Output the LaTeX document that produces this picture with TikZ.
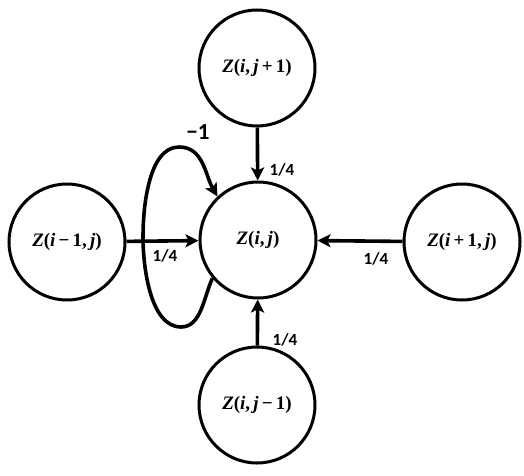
\documentclass[tikz,border=0pt]{standalone}
\usepackage{fontspec}
\newfontfamily\lblfont{Carlito}
\newfontfamily\zfont{Liberation Serif}
\usetikzlibrary{arrows.meta}
\newcommand{\vi}[1]{\textit{#1}}
\begin{document}
\begin{tikzpicture}[x=1pt,y=1pt,
  state/.style={circle,draw,line width=3pt,minimum size=116pt,inner sep=0pt,font=\zfont\bfseries\fontsize{19}{22}\selectfont},
  edge/.style={line width=3.6pt,-{Stealth[length=13pt,width=13pt,inset=3pt]}},
  wlabel/.style={font=\lblfont\bfseries\fontsize{17}{20}\selectfont}]
\useasboundingbox (0,0) rectangle (524,475);
\node[state] (c) at (258,235) {\vi{Z}(\vi{i},\,\vi{j})};
\node[state] (t) at (257,407) {\vi{Z}(\vi{i},\,\vi{j}\,+\,1)};
\node[state] (l) at (67,233) {\vi{Z}(\vi{i}\,−\,1,\,\vi{j})};
\node[state] (r) at (462,233) {\vi{Z}(\vi{i}\,+\,1,\,\vi{j})};
\node[state] (b) at (257,70) {\vi{Z}(\vi{i},\,\vi{j}\,−\,1)};
\draw[edge] (t) -- (c);
\draw[edge] (l) -- (c);
\draw[edge] (r) -- (c);
\draw[edge] (b) -- (c);
\coordinate (lb) at (181,148);
\coordinate (ll) at (143,238);
\coordinate (lt) at (179,328);
\draw[edge] (c.220) to[out=245,in=0,looseness=0.9] (lb) to[out=180,in=270,looseness=0.8] (ll) to[out=90,in=180,looseness=0.8] (lt) to[out=0,in=120,looseness=1.0] (c.133);
\node[wlabel] (wt) at (282,305) {1/4};
\node[wlabel] (wl) at (165,219) {1/4};
\node[wlabel] (wr) at (376,216) {1/4};
\node[wlabel] (wb) at (285,135) {1/4};
\node[font=\lblfont\bfseries\fontsize{23}{26}\selectfont] (m1) at (198,343) {−1};
\end{tikzpicture}
\end{document}
